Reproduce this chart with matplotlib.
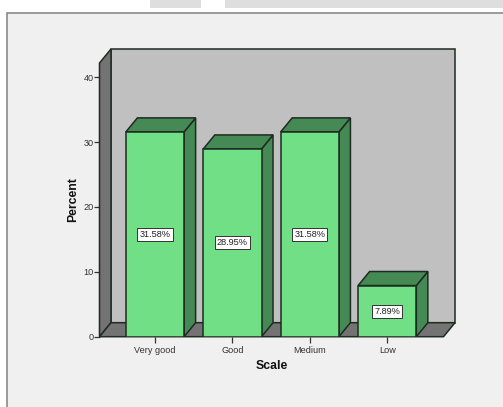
import matplotlib
matplotlib.use("Agg")
from matplotlib import pyplot as plt
from matplotlib.patches import Polygon, Rectangle

categories = ["Very good", "Good", "Medium", "Low"]
percents = [31.58, 28.95, 31.58, 7.89]
yticks = [0, 10, 20, 30, 40]

W, H = 503, 407
BAR_W = 0.752
# depth of the fake 3d box, in data units
DX = 0.1486
DY = 2.16
YTOP = 42.2
XMIN, XMAX = -0.717, 3.727
EDGE = "#1f2a22"

plt.rcParams["font.family"] = ["Liberation Sans", "DejaVu Sans"]

fig = plt.figure(figsize=(W / 100, H / 100), dpi=100, facecolor="white")

# window chrome behind the chart
bg = fig.add_axes([0, 0, 1, 1])
bg.set_xlim(0, W)
bg.set_ylim(H, 0)
bg.axis("off")
bg.add_patch(Rectangle((150, 0), 51, 7.5, fc="#dedede", ec="none"))
bg.add_patch(Rectangle((225, 0), 278, 7.5, fc="#dedede", ec="none"))
bg.add_patch(Rectangle((7, 13), 510, 400, fc="#f0f0f0", ec="#8a8a8a", lw=1.2))

ax = fig.add_axes([99.5 / W, 1 - 336.7 / H, 344 / W, 273.7 / H])
ax.set_xlim(XMIN, XMAX)
ax.set_ylim(0, YTOP)
ax.patch.set_visible(False)
for s in ax.spines.values():
    s.set_visible(False)


def poly(pts, color, z, lw=1.1):
    ax.add_patch(Polygon(pts, closed=True, fc=color, ec=EDGE, lw=lw, zorder=z,
                         clip_on=False, joinstyle="miter"))


# back wall, side wall, floor
poly([(XMIN + DX, DY), (XMAX + DX, DY), (XMAX + DX, YTOP + DY), (XMIN + DX, YTOP + DY)], "#c0c0c0", 1)
poly([(XMIN, 0), (XMIN + DX, DY), (XMIN + DX, YTOP + DY), (XMIN, YTOP)], "#737373", 2)
poly([(XMIN, 0), (XMAX, 0), (XMAX + DX, DY), (XMIN + DX, DY)], "#737373", 2)

for i, (cat, val) in enumerate(zip(categories, percents)):
    x0, x1 = i - BAR_W / 2, i + BAR_W / 2
    poly([(x1, 0), (x1 + DX, DY), (x1 + DX, val + DY), (x1, val)], "#458a54", 3)
    poly([(x0, val), (x1, val), (x1 + DX, val + DY), (x0 + DX, val + DY)], "#458a54", 3)
    ax.bar(i, val, width=BAR_W, color="#70df86", edgecolor=EDGE, linewidth=1.1, zorder=4)
    ax.text(i, val / 2, "%.2f%%" % val, ha="center", va="center", fontsize=6.6, color="#222222", zorder=5,
            bbox=dict(boxstyle="square,pad=0.22", fc="white", ec="#333333", lw=0.7))

ax.set_xticks(range(len(categories)))
ax.set_xticklabels(categories, fontsize=6.6, color="#333333")
ax.set_yticks(yticks)
ax.tick_params(axis="both", length=4.5, width=0.9, color="#333333", labelsize=6.6, labelcolor="#333333")
ax.tick_params(axis="y", pad=-0.5)
ax.tick_params(axis="x", pad=2.5)
ax.set_xlabel("Scale", fontsize=8.8, fontweight="bold", color="#111111", labelpad=3.5)
ax.set_ylabel("Percent", fontsize=8.8, fontweight="bold", color="#111111", labelpad=3.5)

fig.savefig("out.png", dpi=100, facecolor=fig.get_facecolor())
